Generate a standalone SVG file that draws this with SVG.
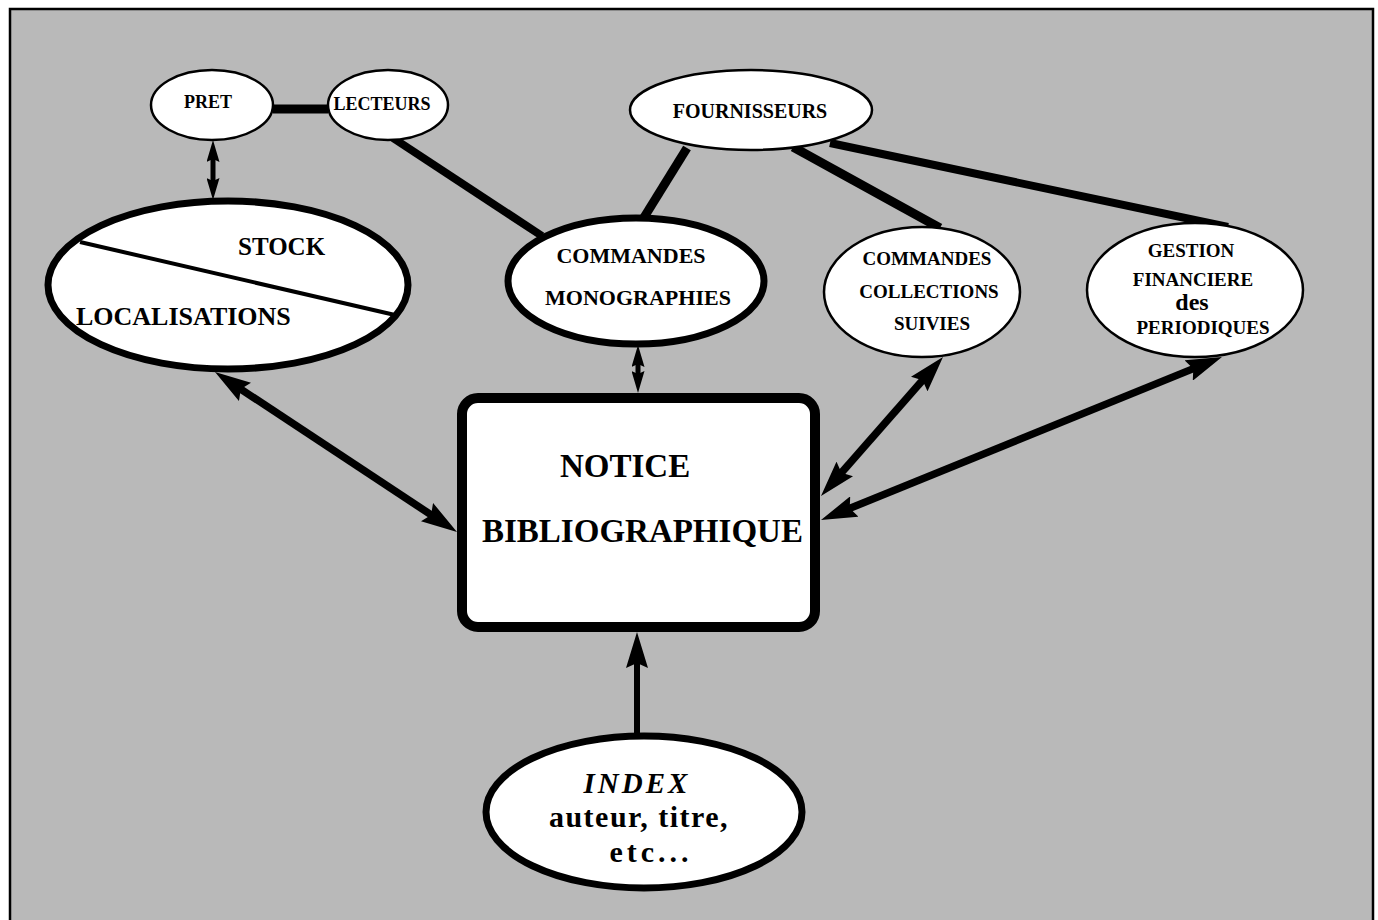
<svg xmlns="http://www.w3.org/2000/svg" width="1378" height="920" viewBox="0 0 1378 920">
  <style>
    .t { font-family: "Liberation Serif", "Times New Roman", serif; font-weight: bold; fill: #000; }
    .thin { fill: #fff; stroke: #000; stroke-width: 2.5; }
    .thick { fill: #fff; stroke: #000; stroke-width: 7; }
    .conn { stroke: #000; fill: none; stroke-linecap: butt; }
  </style>
  <defs>
    <marker id="ah" markerUnits="userSpaceOnUse" viewBox="0 0 36 22" markerWidth="36" markerHeight="22" refX="21" refY="11" orient="auto-start-reverse">
      <path d="M0,0 L36,11 L0,22 L5,11 z" fill="#000"/>
    </marker>
    <marker id="ahs" markerUnits="userSpaceOnUse" viewBox="0 0 22 13" markerWidth="22" markerHeight="13" refX="12" refY="6.5" orient="auto-start-reverse">
      <path d="M0,0 L22,6.5 L0,13 L3,6.5 z" fill="#000"/>
    </marker>
  </defs>

  <rect x="0" y="0" width="1378" height="920" fill="#fff"/>
  <rect id="frame" x="10" y="9" width="1363" height="915" fill="#b9b9b9" stroke="#000" stroke-width="2.5"/>

  <g id="connectors">
    <line class="conn" x1="273" y1="109" x2="328" y2="109" stroke-width="9"/>
    <line class="conn" x1="393" y1="138" x2="542" y2="236" stroke-width="8"/>
    <line class="conn" x1="687" y1="148" x2="643" y2="219" stroke-width="9"/>
    <line class="conn" x1="793" y1="147" x2="940" y2="228" stroke-width="9"/>
    <line class="conn" x1="830" y1="143" x2="1228" y2="227" stroke-width="8"/>
    <line class="conn" x1="213" y1="150" x2="213" y2="190" stroke-width="5" marker-start="url(#ahs)" marker-end="url(#ahs)"/>
    <line class="conn" x1="638" y1="355" x2="638" y2="383" stroke-width="5" marker-start="url(#ahs)" marker-end="url(#ahs)"/>
    <line class="conn" x1="227.5" y1="380.3" x2="444.5" y2="523.7" stroke-width="7.5" marker-start="url(#ah)" marker-end="url(#ah)"/>
    <line class="conn" x1="933.1" y1="368.3" x2="830.9" y2="484.7" stroke-width="7.5" marker-start="url(#ah)" marker-end="url(#ah)"/>
    <line class="conn" x1="1208.1" y1="362.6" x2="834.9" y2="514.4" stroke-width="7.5" marker-start="url(#ah)" marker-end="url(#ah)"/>
    <line class="conn" x1="637" y1="735" x2="637" y2="647" stroke-width="6" marker-end="url(#ah)"/>
  </g>

  <g id="pret">
    <ellipse class="thin" cx="212" cy="105" rx="61" ry="35"/>
    <text class="t" x="208" y="108" font-size="18" text-anchor="middle">PRET</text>
  </g>
  <g id="lecteurs">
    <ellipse class="thin" cx="388" cy="105" rx="60" ry="35"/>
    <text class="t" x="382" y="110" font-size="18" text-anchor="middle">LECTEURS</text>
  </g>
  <g id="fournisseurs">
    <ellipse class="thin" cx="751" cy="110" rx="121" ry="40"/>
    <text class="t" x="750" y="118" font-size="20" text-anchor="middle">FOURNISSEURS</text>
  </g>
  <g id="stock">
    <ellipse class="thick" cx="228" cy="285" rx="180" ry="84"/>
    <line x1="80" y1="242" x2="395" y2="315" stroke="#000" stroke-width="4"/>
    <text class="t" x="238" y="255" font-size="25">STOCK</text>
    <text class="t" x="76" y="325" font-size="26">LOCALISATIONS</text>
  </g>
  <g id="commandes-monographies">
    <ellipse class="thick" cx="636" cy="281" rx="128" ry="63"/>
    <text class="t" x="631" y="263" font-size="22" text-anchor="middle">COMMANDES</text>
    <text class="t" x="638" y="305" font-size="22" text-anchor="middle">MONOGRAPHIES</text>
  </g>
  <g id="commandes-collections">
    <ellipse class="thin" cx="922" cy="292" rx="98" ry="65"/>
    <text class="t" x="927" y="265" font-size="19" text-anchor="middle">COMMANDES</text>
    <text class="t" x="929" y="298" font-size="19" text-anchor="middle">COLLECTIONS</text>
    <text class="t" x="932" y="330" font-size="19" text-anchor="middle">SUIVIES</text>
  </g>
  <g id="gestion">
    <ellipse class="thin" cx="1195" cy="290" rx="108" ry="67"/>
    <text class="t" x="1191" y="257" font-size="19" text-anchor="middle">GESTION</text>
    <text class="t" x="1193" y="286" font-size="19" text-anchor="middle">FINANCIERE</text>
    <text class="t" x="1192" y="310" font-size="24" text-anchor="middle">des</text>
    <text class="t" x="1203" y="334" font-size="19" text-anchor="middle">PERIODIQUES</text>
  </g>
  <g id="notice">
    <rect x="462" y="398" width="353" height="229" rx="16" fill="#fff" stroke="#000" stroke-width="10"/>
    <text class="t" x="560" y="477" font-size="33">NOTICE</text>
    <text class="t" x="482" y="542" font-size="33">BIBLIOGRAPHIQUE</text>
  </g>
  <g id="index">
    <ellipse class="thick" cx="644" cy="812" rx="158" ry="76"/>
    <text class="t" x="637" y="793" font-size="29" font-style="italic" letter-spacing="3" text-anchor="middle">INDEX</text>
    <text class="t" x="639" y="827" font-size="30" letter-spacing="1.5" text-anchor="middle">auteur, titre,</text>
    <text class="t" x="651" y="862" font-size="30" letter-spacing="4" text-anchor="middle">etc...</text>
  </g>
</svg>
